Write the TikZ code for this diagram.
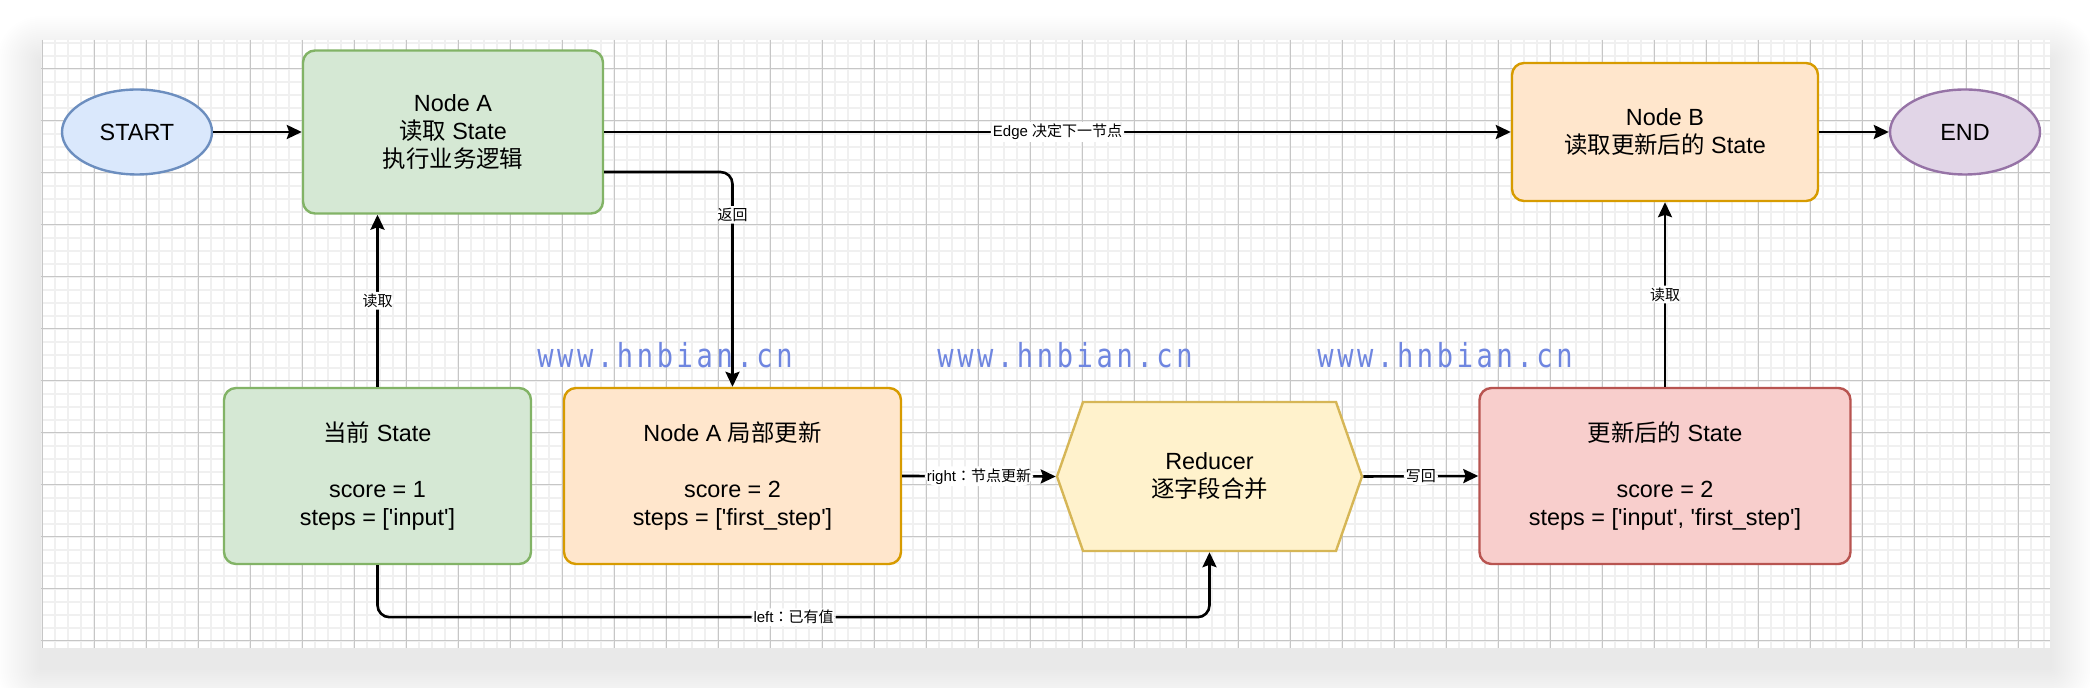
\documentclass[tikz,border=0pt]{standalone}
\usepackage{fontspec}
\newfontfamily\lsans{Liberation Sans}
\newfontfamily\cjk{Noto Sans CJK SC}
\newfontfamily\cjkc{Noto Sans CJK TC}
\newfontfamily\wmono{DejaVu Sans Mono}[FakeStretch=0.82, LetterSpace=11]
\usetikzlibrary{arrows.meta,shapes.geometric,shapes.symbols}
\definecolor{bluefill}{HTML}{DAE8FC}\definecolor{bluedraw}{HTML}{6C8EBF}
\definecolor{greenfill}{HTML}{D5E8D4}\definecolor{greendraw}{HTML}{82B366}
\definecolor{orangefill}{HTML}{FFE6CC}\definecolor{orangedraw}{HTML}{D79B00}
\definecolor{yellowfill}{HTML}{FFF2CC}\definecolor{yellowdraw}{HTML}{D6B656}
\definecolor{redfill}{HTML}{F8CECC}\definecolor{reddraw}{HTML}{B85450}
\definecolor{purplefill}{HTML}{E1D5E7}\definecolor{purpledraw}{HTML}{9673A6}
\definecolor{minorgrid}{HTML}{F0F0F0}\definecolor{majorgrid}{HTML}{C6C6C6}
\definecolor{wmblue}{HTML}{6F86E0}
\begin{document}
\begin{tikzpicture}[x=0.5pt,y=-0.5pt,
  txt/.style={font=\lsans\fontsize{11.7}{14}\selectfont, text=black, align=center},
  box/.style={txt, draw, rounded corners=6pt, line width=1.2pt, inner sep=0pt},
  greenbox/.style={box, fill=greenfill, draw=greendraw},
  orangebox/.style={box, fill=orangefill, draw=orangedraw},
  redbox/.style={box, fill=redfill, draw=reddraw},
  oval/.style={txt, ellipse, draw, line width=1.2pt, inner sep=0pt, minimum width=75pt, minimum height=42.5pt},
  hexnode/.style={txt, signal, signal to=east and west, signal pointer angle=141.5, draw=yellowdraw, fill=yellowfill, line width=1.2pt, inner sep=0pt, minimum width=152.5pt, minimum height=74.5pt},
  edge/.style={draw=black, line width=1.3pt, rounded corners=6pt, -{Stealth[length=7.5pt,width=7pt,inset=1.2pt]}},
  lbl/.style={fill=white, inner sep=1pt, font=\lsans\fontsize{7.5}{9}\selectfont, text=black},
  wm/.style={font=\wmono\fontsize{16.5}{18}\selectfont, text=wmblue},
  minorline/.style={draw=minorgrid, line width=1pt},
  majorline/.style={draw=majorgrid, line width=0.5pt}
]
\useasboundingbox (0,0) rectangle (2090,688);
\fill[white] (0,0) rectangle (2090,688);
\foreach \i in {1,...,22}
  \fill[black, opacity=0.004, rounded corners=\i pt] ({41-2*\i},{60-2*\i}) rectangle ({2050+2*\i},{668+2*\i});
\fill[white] (41,40) rectangle (2050,648);
\begin{scope}
  \clip (41,40) rectangle (2050,648);
  \foreach \gx in {42,55,...,2049} \draw[minorline] (\gx,40) -- (\gx,648);
  \foreach \gy in {43,56,...,647} \draw[minorline] (41,\gy) -- (2050,\gy);
  \foreach \gx in {42,94,...,2049} \draw[majorline] (\gx,40) -- (\gx,648);
  \foreach \gy in {69,121,...,647} \draw[majorline] (41,\gy) -- (2050,\gy);
\end{scope}

\node[wm] (wm1) at (665,355) {www.hnbian.cn};
\node[wm] (wm2) at (1065,355) {www.hnbian.cn};
\node[wm] (wm3) at (1445,355) {www.hnbian.cn};

\node[oval, fill=bluefill, draw=bluedraw] (start) at (137,132) {START};
\node[greenbox, minimum width=150pt, minimum height=81.5pt] (nodeA) at (453,132) {Node A\\{\cjk 读取} State\\{\cjk 执行业务逻辑}};
\node[orangebox, minimum width=153pt, minimum height=69pt] (nodeB) at (1665,132) {Node B\\{\cjk 读取更新后的} State};
\node[oval, fill=purplefill, draw=purpledraw] (end) at (1965,132) {END};
\node[greenbox, minimum width=153.5pt, minimum height=88pt] (cur) at (377.5,476) {{\cjk 当前} State\\[14pt]score = 1\\steps = ['input']};
\node[orangebox, minimum width=168.5pt, minimum height=88pt] (part) at (732.5,476) {Node A {\cjk 局部更新}\\[14pt]score = 2\\steps = ['first\_step']};
\node[hexnode] (red) at (1209.5,476.5) {Reducer\\{\cjk 逐字段合并}};
\node[redbox, minimum width=185.5pt, minimum height=88pt] (upd) at (1665,476) {{\cjk 更新后的} State\\[14pt]score = 2\\steps = ['input', 'first\_step']};

\draw[edge] (start.east) -- (nodeA.west);
\draw[edge] (nodeA.east) -- node[lbl]{Edge {\cjk 决定下一节点}} (nodeB.west);
\draw[edge] (nodeB.east) -- (end.west);
\draw[edge] ([yshift=-20pt]nodeA.east) -| node[lbl, pos=0.6]{\cjk 返回} (part.north);
\draw[edge] (cur.north) -- node[lbl]{\cjk 读取} (cur.north |- nodeA.south);
\draw[edge] (part.east) -- node[lbl]{right{\cjkc ：}{\cjk 节点更新}} (red.west);
\draw[edge] (red.east) -- node[lbl]{\cjk 写回} (upd.west);
\draw[edge] (upd.north) -- node[lbl]{\cjk 读取} (nodeB.south);
\draw[edge] (cur.south) -- ++(0,52) -| node[lbl, pos=0.25]{left{\cjkc ：}{\cjk 已有值}} (red.south);
\end{tikzpicture}
\end{document}
